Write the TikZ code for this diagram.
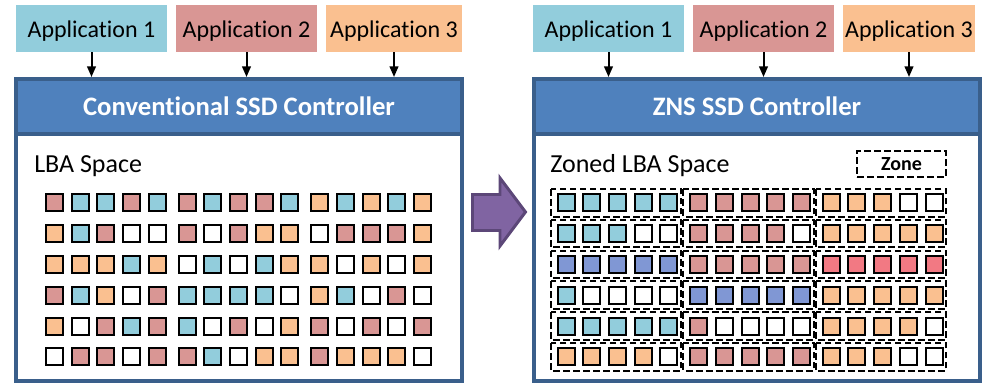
\documentclass[tikz,border=0pt]{standalone}
\usepackage{fontspec}
\setmainfont{Carlito}[Ligatures=NoCommon]
\usetikzlibrary{arrows.meta}

\definecolor{appB}{HTML}{92CDDC}
\definecolor{appR}{HTML}{D99694}
\definecolor{appO}{HTML}{FAC090}
\colorlet{cB}{appB}
\colorlet{cR}{appR}
\colorlet{cO}{appO}
\definecolor{cW}{HTML}{FFFFFF}
\definecolor{cP}{HTML}{8097D4}
\definecolor{cX}{HTML}{F27983}
\definecolor{hdr}{HTML}{4F81BD}
\definecolor{hdrline}{HTML}{3A5F8B}
\definecolor{purp}{HTML}{8064A2}
\definecolor{purpline}{HTML}{5C4778}

\begin{document}
\begin{tikzpicture}[x=0.75pt,y=-0.75pt,
  app/.style={rectangle, inner sep=0pt, minimum height=35.25pt,
    text height=13pt, text depth=0pt, font=\fontsize{18}{21}\selectfont},
  hdrband/.style={rectangle, fill=hdr, inner sep=0pt, minimum width=334.5pt,
    minimum height=41.25pt, text=white, text height=14pt, text depth=0pt,
    font=\bfseries\fontsize{20}{24}\selectfont},
  ctl/.style={rectangle, draw=hdrline, line width=3pt, inner sep=0pt,
    minimum width=334.5pt, minimum height=226.5pt},
  cell/.style={rectangle, draw=black, line width=1.5pt, inner sep=0pt,
    minimum size=12.75pt},
  zonebox/.style={draw=black, line width=1.5pt, dash pattern=on 5pt off 2.5pt},
  feed/.style={-{Triangle[length=8pt,width=6.5pt]}, line width=1.5pt},
  spacelabel/.style={anchor=base west, inner sep=0pt,
    font=\fontsize{19.5}{23}\selectfont}]
\useasboundingbox (0,0) rectangle (982,383);

% ---------------- conventional SSD ----------------
\node[app, fill=appB, minimum width=113.25pt] (la1) at (91.5,28.5) {Application 1};
\node[app, fill=appR, minimum width=105.75pt] (la2) at (246.5,28.5) {Application 2};
\node[app, fill=appO, minimum width=102pt]    (la3) at (394,28.5) {Application 3};

\node[hdrband] (lhdr) at (239,106.5) {Conventional SSD Controller};
\draw[hdrline, line width=3pt] (lhdr.south west) -- (lhdr.south east);
\node[ctl] (lctl) at (239,230) {};

\foreach \n in {1,2,3}
  \draw[feed] (la\n.south) -- (la\n.south |- lctl.north);

\node[spacelabel] (llba) at (34,172.7) {LBA Space};

\foreach \row [count=\r] in {
  {R,B,B,R,B,R,B,R,R,B,O,B,O,B,O},
  {O,B,R,W,W,R,W,R,O,O,W,R,R,R,O},
  {O,O,O,B,O,W,B,W,B,O,O,W,O,W,O},
  {R,B,O,W,R,B,B,B,B,W,O,B,W,R,W},
  {O,W,R,B,R,B,W,R,W,O,R,W,R,W,R},
  {W,R,R,W,R,R,B,W,O,O,R,O,O,O,W}} {
  \foreach \cc [count=\k] in \row {
    \pgfmathsetmacro\cx{54.5 + mod(\k-1,5)*25.7 + int((\k-1)/5)*132.6}
    \pgfmathsetmacro\cy{202.8 + (\r-1)*30.8}
    \node[cell, fill=c\cc] (L-\r-\k) at (\cx,\cy) {};
  }
}

% ---------------- transition arrow ----------------
\draw[purpline, fill=purp, line width=2.2pt, line join=miter]
  (472.5,194.5) -- (500,194.5) -- (500,178) -- (525.5,212)
  -- (500,246) -- (500,230.5) -- (472.5,230.5) -- cycle;

% ---------------- ZNS SSD ----------------
\node[app, fill=appB, minimum width=113.25pt] (ra1) at (608.5,28.5) {Application 1};
\node[app, fill=appR, minimum width=105.75pt] (ra2) at (763.5,28.5) {Application 2};
\node[app, fill=appO, minimum width=99pt]     (ra3) at (909,28.5) {Application 3};

\node[hdrband] (rhdr) at (757,106.5) {ZNS SSD Controller};
\draw[hdrline, line width=3pt] (rhdr.south west) -- (rhdr.south east);
\node[ctl] (rctl) at (757,230) {};

\foreach \n in {1,2,3}
  \draw[feed] (ra\n.south) -- (ra\n.south |- rctl.north);

\node[spacelabel] (rlba) at (550,172.7) {Zoned LBA Space};
\node[zonebox, rectangle, inner sep=0pt, minimum width=66.75pt, minimum height=19.5pt,
  text height=10pt, text depth=0pt,
  font=\bfseries\fontsize{15}{18}\selectfont] (zkey) at (901.5,164) {Zone};

\foreach \row [count=\r] in {
  {B,B,B,B,B,R,R,R,R,R,O,O,O,W,W},
  {B,B,B,W,W,R,R,R,R,W,O,O,O,O,O},
  {P,P,P,P,P,R,R,R,R,R,X,X,X,X,X},
  {B,W,W,W,W,P,P,P,P,P,O,O,O,O,O},
  {B,B,B,B,B,R,W,W,W,W,O,O,O,O,W},
  {O,O,O,O,W,R,R,R,R,R,O,O,O,W,W}} {
  \foreach \cc [count=\k] in \row {
    \pgfmathsetmacro\cx{566 + mod(\k-1,5)*25.7 + int((\k-1)/5)*132.6}
    \pgfmathsetmacro\cy{202.8 + (\r-1)*30.8}
    \node[cell, fill=c\cc] (R-\r-\k) at (\cx,\cy) {};
  }
}

% one dashed zone around every run of five blocks
\foreach \r in {1,...,6}
  \foreach \g in {0,1,2} {
    \pgfmathtruncatemacro\za{5*\g+1}
    \pgfmathtruncatemacro\zb{5*\g+5}
    \draw[zonebox] ([xshift=-4.3pt,yshift=3.2pt]R-\r-\za.north west)
      rectangle ([xshift=2pt,yshift=-3.2pt]R-\r-\zb.south east);
  }
\end{tikzpicture}
\end{document}
